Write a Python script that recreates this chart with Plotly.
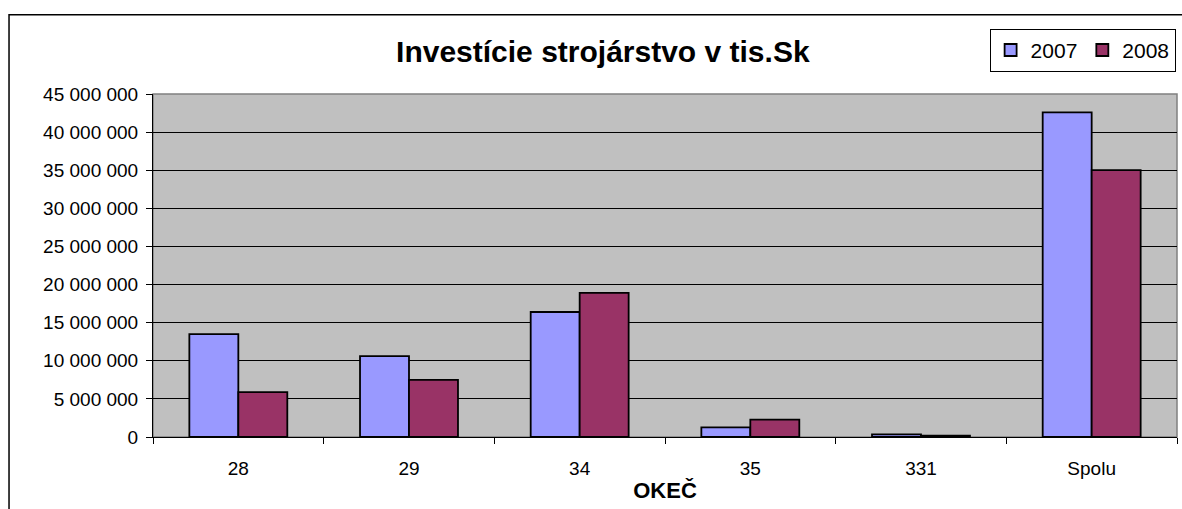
import plotly.graph_objects as go

categories = ["28", "29", "34", "35", "331", "Spolu"]
inv_2007 = [13500000, 10600000, 16400000, 1270000, 350000, 42600000]
inv_2008 = [5900000, 7500000, 18900000, 2270000, 170000, 35000000]

fig = go.Figure()
fig.add_trace(go.Bar(x=categories, y=inv_2007, name="2007",
                     marker=dict(color="#9999FF", line=dict(color="black", width=1.8))))
fig.add_trace(go.Bar(x=categories, y=inv_2008, name="2008",
                     marker=dict(color="#993366", line=dict(color="black", width=1.8))))

fig.update_layout(
    width=1182, height=509,
    margin=dict(l=153, r=5, t=94, b=72, autoexpand=False),
    paper_bgcolor="white", plot_bgcolor="#C0C0C0",
    font=dict(family="Liberation Sans, Arial", size=18, color="black"),
    separators=", ",
    barmode="group", bargap=0.426, bargroupgap=0,
    title=dict(text="<b>Investície strojárstvo v tis.Sk</b>", x=0.51, xanchor="center",
               y=0.898, yanchor="middle", font=dict(size=30)),
    legend=dict(orientation="h", x=0.817, xanchor="left", y=1.19, yanchor="top",
                bordercolor="black", borderwidth=1, bgcolor="white",
                font=dict(size=21), itemwidth=30, tracegroupgap=0),
    showlegend=True,
)
fig.update_xaxes(
    showline=True, linecolor="black", linewidth=1,
    ticks="outside", tickson="boundaries", ticklen=6, tickcolor="black",
    tickfont=dict(size=19), ticklabelstandoff=14,
    title=dict(text="<b>OKEČ</b>", font=dict(size=22), standoff=4),
)
fig.update_yaxes(
    range=[0, 45000000], dtick=5000000, tickformat=",d",
    showgrid=True, gridcolor="black", gridwidth=1,
    showline=True, linecolor="black", linewidth=1,
    ticks="outside", ticklen=6, tickcolor="black", zeroline=False,
    tickfont=dict(size=19), ticklabelstandoff=4,
)
# plot area border (top/right grey)
fig.add_shape(type="rect", xref="paper", yref="paper", x0=0, x1=1, y0=0, y1=1,
              line=dict(color="#808080", width=1.5), layer="below")
# outer chart border
fig.add_shape(type="rect", xref="paper", yref="paper", x0=-0.1406, x1=1.05,
              y0=-0.3, y1=1.231, line=dict(color="black", width=1.5))

fig.write_html("out.html", config={"displayModeBar": False},
               post_script="document.body.style.margin='0';")
